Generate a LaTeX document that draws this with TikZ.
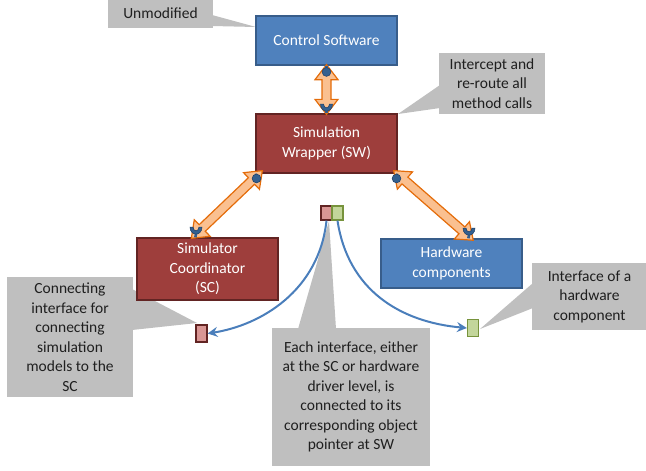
\documentclass[tikz,border=0pt]{standalone}
\usepackage{fontspec}
\setmainfont{Carlito}
\usetikzlibrary{calc,arrows.meta}

\definecolor{bluefill}{HTML}{4F81BD}
\definecolor{blueedge}{HTML}{385D8A}
\definecolor{redfill}{HTML}{9E3E3C}
\definecolor{rededge}{HTML}{622423}
\definecolor{calloutgray}{HTML}{BFBFBF}
\definecolor{orangeedge}{HTML}{E46C0A}
\definecolor{orangefill}{HTML}{FAC090}
\definecolor{pinblue}{HTML}{34608F}
\definecolor{pinedge}{HTML}{1F3F66}
\definecolor{linkblue}{HTML}{4A7EBB}
\definecolor{sqred}{HTML}{D99694}
\definecolor{sqgreen}{HTML}{C3D69B}
\definecolor{sqgreenedge}{HTML}{77933C}

\tikzset{
  bluebox/.style={draw=blueedge, fill=bluefill, line width=1.3pt, text=white,
    align=center, inner sep=0pt},
  redbox/.style={draw=rededge, fill=redfill, line width=1.3pt, text=white,
    align=center, inner sep=0pt},
  callout/.style={fill=calloutgray, align=center, text=black!88, inner sep=0pt},
  wedge/.style={fill=calloutgray},
  blockarr/.style={draw=orangeedge, fill=orangefill, line width=1.2pt, line join=miter},
  ballpin/.style={fill=pinblue, draw=pinedge, line width=0.5pt},
  pinline/.style={draw=pinblue, line width=2.6pt},
  link/.style={draw=linkblue, line width=2pt, -{Stealth[length=10pt,width=10pt,inset=3.5pt]}},
  redsq/.style={draw=rededge, fill=sqred, line width=1.2pt, inner sep=0pt},
  greensq/.style={draw=sqgreenedge, fill=sqgreen, line width=1.2pt, inner sep=0pt},
}

% double-headed block arrow between two named points
\newcommand\blockarrow[2]{%
  \path (#1); \pgfgetlastxy\bax\bay
  \path (#2); \pgfgetlastxy\bbx\bby
  \pgfmathsetmacro\arrowang{atan2(\bby-\bay,\bbx-\bax)}%
  \pgfmathsetmacro\arrowlen{veclen(\bbx-\bax,\bby-\bay)}%
  \begin{scope}[shift={(#1)}, rotate=\arrowang]
    \draw[blockarr] (0pt,0pt) -- (15pt,11.5pt) -- (15pt,4.5pt)
      -- (\arrowlen pt-15pt,4.5pt) -- (\arrowlen pt-15pt,11.5pt)
      -- (\arrowlen pt,0pt) -- (\arrowlen pt-15pt,-11.5pt)
      -- (\arrowlen pt-15pt,-4.5pt) -- (15pt,-4.5pt) -- (15pt,-11.5pt) -- cycle;
  \end{scope}}

% ball pin hanging below a box edge: #1 = edge point, #2 = ball centre
\newcommand\ballpin[2]{%
  \draw[pinline] (#1) -- (#2);
  \filldraw[ballpin] (#2) circle[radius=4.4pt];}

% socket pin standing on a box edge: #1 = edge point, #2 = cup centre
\newcommand\socketpin[2]{%
  \draw[pinline] (#1) -- ($(#2)+(0,4)$);
  \filldraw[ballpin] ($(#2)+(-6,-3)$) .. controls ($(#2)+(-6,6.5)$) and ($(#2)+(6,6.5)$) .. ($(#2)+(6,-3)$)
    -- ($(#2)+(3,-3)$) .. controls ($(#2)+(3,2)$) and ($(#2)+(-3,2)$) .. ($(#2)+(-3,-3)$) -- cycle;}

\begin{document}
\begin{tikzpicture}[x=1pt,y=-1pt, font=\fontsize{15.5}{19.5}\selectfont]
\useasboundingbox (0,0) rectangle (646,471);

% callout pointers
\fill[wedge] (212,15) -- (256,27) -- (212,26) -- cycle;
\fill[wedge] (440,85) -- (398,114) -- (440,108) -- cycle;
\fill[wedge] (132,289) -- (197,323) -- (132,330) -- cycle;
\fill[wedge] (533,283) -- (480,329) -- (533,308) -- cycle;
\fill[wedge] (298,329) -- (329,221) -- (336,329) -- cycle;

% callout boxes
\node[callout, minimum width=105pt, minimum height=29pt] (unmod) at (160.5,13.5) {Unmodified};
\node[callout, minimum width=106pt, minimum height=61pt] (icpt) at (492,83.5)
  {Intercept and\\re-route all\\method calls};
\node[callout, minimum width=126pt, minimum height=120pt] (conn) at (70,337)
  {Connecting\\interface for\\connecting\\simulation\\models to the\\SC};
\node[callout, minimum width=115pt, minimum height=67pt] (hwif) at (589.5,296.5)
  {Interface of a\\hardware\\component};
\node[callout, minimum width=158pt, minimum height=138pt] (each) at (351,397)
  {Each interface, either\\at the SC or hardware\\driver level, is\\connected to its\\corresponding object\\pointer at SW};

% main blocks
\node[bluebox, minimum width=141pt, minimum height=49pt] (cs) at (326.5,40.5) {Control Software};
\node[redbox, minimum width=141pt, minimum height=59pt] (sw) at (326.5,143.5) {Simulation\\Wrapper (SW)};
\node[redbox, minimum width=141pt, minimum height=62pt] (sc) at (207.5,269) {Simulator\\Coordinator\\(SC)};
\node[bluebox, minimum width=141pt, minimum height=49pt] (hw) at (451.5,263.5) {Hardware\\components};

% arrow end points
\coordinate (a1s) at ($(cs.south)+(0,-1)$);
\coordinate (a1e) at ($(sw.north)+(0,1)$);
\coordinate (a2s) at ($(sw.south west)+(7,-3)$);
\coordinate (a2e) at ($(sc.north west)+(55,1)$);
\coordinate (a3s) at ($(sw.south east)+(-4,-3)$);
\coordinate (a3e) at ($(hw.north west)+(93,2)$);

\blockarrow{a1s}{a1e}
\blockarrow{a2s}{a2e}
\blockarrow{a3s}{a3e}

% pins at the arrow ends
\ballpin{cs.south}{326.5,72}
\socketpin{sw.north}{326.5,107}
\ballpin{$(sw.south west)+(0.5,0)$}{256.5,178.5}
\socketpin{$(sc.north west)+(59,0)$}{196,230}
\ballpin{$(sw.south east)+(-0.5,0)$}{396.5,178.5}
\socketpin{$(hw.north west)+(88,0)$}{469,231}

% interface pointers
\node[redsq, minimum width=11pt, minimum height=14pt] (ptrsc) at (326.5,213) {};
\node[greensq, minimum width=11pt, minimum height=14pt] (ptrhw) at (337.5,213) {};
\node[redsq, minimum width=11pt, minimum height=17pt] (ifsc) at (201.5,333.5) {};
\node[greensq, minimum width=11pt, minimum height=17pt] (ifhw) at (473,328) {};

\draw[link] (ptrsc.south) .. controls (319,290) and (262,325) .. (ifsc.east);
\draw[link] (ptrhw.south) .. controls (348,290) and (400,322) .. (ifhw.west);
\end{tikzpicture}
\end{document}
